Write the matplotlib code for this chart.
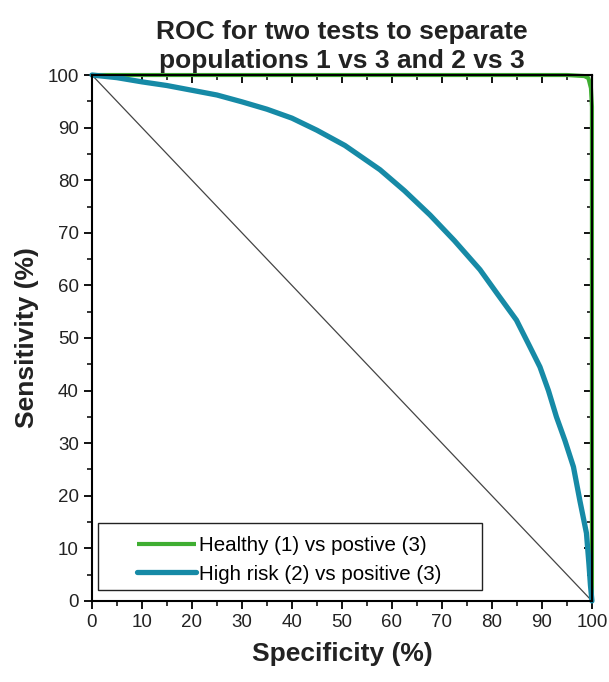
import matplotlib.pyplot as plt
from matplotlib.ticker import MultipleLocator
from matplotlib.patches import Rectangle

plt.rcParams['font.family'] = ['Liberation Sans', 'DejaVu Sans']

# ROC data (specificity %, sensitivity %)
spec_healthy = [0, 20, 40, 60, 80, 95, 98.5, 99.3, 99.8, 100, 100, 100]
sens_healthy = [100, 100, 100, 100, 100, 100, 99.8, 99.4, 97.5, 94, 50, 0]

spec_risk = [0, 5, 10, 15, 20, 25, 30, 35, 40, 45, 50.6, 57.6, 62.5, 67.6, 72.5,
             77.6, 81, 84.9, 87.5, 89.6, 91.3, 92.9, 94.6, 96.3, 97.6, 98.9, 99.4, 99.7, 100]
sens_risk = [100, 99.5, 98.7, 98, 97.1, 96.2, 94.9, 93.5, 91.8, 89.5, 86.6, 82, 78, 73.4, 68.5,
             63, 58.5, 53.4, 48.5, 44.5, 40, 35, 30.5, 25.5, 19, 12.9, 7, 3, 0]

ref_x = [0, 100]
ref_y = [100, 0]

green = "#3fae32"
blue = "#168aa6"

fig = plt.figure(figsize=(6.09, 6.82), dpi=100)
ax = fig.add_axes([0.151, 0.1188, 0.821, 0.7712])

ax.plot(ref_x, ref_y, color="#444444", lw=0.9)
ax.plot(spec_healthy, sens_healthy, color=green, lw=3.0, clip_on=False,
        solid_capstyle="butt", label="Healthy (1) vs postive (3)")
ax.plot(spec_risk, sens_risk, color=blue, lw=3.8, clip_on=False,
        solid_capstyle="round", solid_joinstyle="round",
        label="High risk (2) vs positive (3)")

ax.set_xlim(0, 100)
ax.set_ylim(0, 100)
ax.xaxis.set_major_locator(MultipleLocator(10))
ax.xaxis.set_minor_locator(MultipleLocator(5))
ax.yaxis.set_major_locator(MultipleLocator(10))
ax.yaxis.set_minor_locator(MultipleLocator(5))
ax.tick_params(which="major", direction="out", length=6, width=1.3, labelsize=13.5,
               labelcolor="#222222")
ax.tick_params(which="minor", direction="out", length=3.5, width=1.1)
for s in ax.spines.values():
    s.set_linewidth(1.5)

# inward ticks on top and right
top = ax.secondary_xaxis("top")
right = ax.secondary_yaxis("right")
for sec in (top, right):
    sec.tick_params(which="major", direction="in", length=6, width=1.3)
    sec.tick_params(which="minor", direction="in", length=3.5, width=1.1)
top.xaxis.set_major_locator(MultipleLocator(10))
top.xaxis.set_minor_locator(MultipleLocator(5))
right.yaxis.set_major_locator(MultipleLocator(10))
right.yaxis.set_minor_locator(MultipleLocator(5))
top.set_xticklabels([])
right.set_yticklabels([])

ax.set_xlabel("Specificity (%)", fontsize=19, fontweight="bold", color="#222222", labelpad=8)
ax.set_ylabel("Sensitivity (%)", fontsize=19, fontweight="bold", color="#222222", labelpad=6)
ax.set_title("ROC for two tests to separate\npopulations 1 vs 3 and 2 vs 3",
             fontsize=19, fontweight="bold", color="#222222", pad=5, linespacing=1.25)

# legend box drawn separately (text sits off-centre in the original)
ax.add_patch(Rectangle((0.012, 0.021), 0.768, 0.127, transform=ax.transAxes,
                       facecolor="white", edgecolor="#222222", lw=1.0, zorder=4))
leg = ax.legend(loc="lower left", bbox_to_anchor=(0.09, 0.033), fontsize=14.8,
                frameon=False, handlelength=2.85, handletextpad=0.15, borderpad=0,
                labelspacing=0.45, borderaxespad=0)
leg.set_zorder(5)

fig.savefig("out.png", dpi=100)
